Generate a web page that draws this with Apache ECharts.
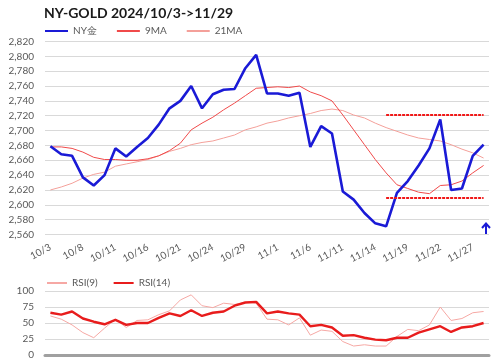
<!DOCTYPE html>
<html><head><meta charset="utf-8">
<script src="https://cdn.jsdelivr.net/npm/echarts@6/dist/echarts.min.js"></script>
<style>html,body{margin:0;padding:0;background:#fff}#c{width:500px;height:361px}</style>
</head><body><div id="c"></div>
<script>
var categories = ['10/3','10/4','10/7','10/8','10/9','10/10','10/11','10/14','10/15','10/16','10/17','10/18','10/21','10/22','10/23','10/24','10/25','10/28','10/29','10/30','10/31','11/1','11/4','11/5','11/6','11/7','11/8','11/11','11/12','11/13','11/14','11/15','11/18','11/19','11/20','11/21','11/22','11/25','11/26','11/27','11/29'];
var nyGold = [2679,2668,2666,2637,2626,2640,2676,2665,2678,2690,2708,2730,2740,2760,2730,2749,2755,2756,2784,2802,2750,2750,2747,2751,2678,2706,2696,2618,2607,2589,2575,2571,2616,2632,2653,2676,2715,2620,2622,2666,2681];
var ma9 = [2678,2678,2676,2671,2664,2661,2661,2660,2660,2662,2666,2673,2683,2701,2710,2718,2728,2737,2747,2757,2758,2759,2758,2760,2752,2747,2740,2721,2701,2681,2661,2643,2627,2622,2617,2615,2626,2627,2632,2643,2653];
var ma21 = [2620,2624,2629,2636,2641,2644,2652,2655,2658,2661,2666,2672,2676,2681,2684,2686,2690,2694,2701,2705,2710,2713,2717,2720,2723,2727,2729,2727,2721,2717,2710,2704,2699,2694,2690,2688,2686,2681,2675,2670,2663];
var rsi9 = [61,56,47,35,27,42,56,43,54,55,63,69,86,94,77,74,81,79,82,81,56,55,47,58,31,39,37,21,14,16,14,14,29,40,38,47,75,54,57,66,68];
var rsi14 = [66,63,68,57,52,48,55,47,50,50,58,65,61,70,61,66,68,77,82,83,65,68,65,63,45,47,43,30,31,27,24,23,27,27,35,40,45,36,43,45,50];
var resistance = 2721;
var support = 2610;
var priceTicks = {min: 2560, max: 2820, step: 20};
var rsiTicks = {min: 0, max: 100, step: 25};

var FONT = 'Lato';
var labelColor = '#595959';
var chart = echarts.init(document.getElementById('c'));
chart.setOption({
  animation: false,
  textStyle: {fontFamily: FONT},
  title: {
    text: 'NY-GOLD 2024/10/3->11/29', left: 44, top: 6, padding: 0,
    textStyle: {fontFamily: FONT, fontSize: 14, fontWeight: 'bold', color: '#1a1a1a'}
  },
  legend: [{
    data: ['NY金', '9MA', '21MA'], left: 45, top: 26, padding: 0,
    itemWidth: 23, itemHeight: 2, itemGap: 20, icon: 'rect',
    textStyle: {fontFamily: FONT, fontSize: 10, color: labelColor}
  }, {
    data: ['RSI(9)', 'RSI(14)'], left: 47, top: 278, padding: 0,
    itemWidth: 20, itemHeight: 2, itemGap: 16, icon: 'rect',
    textStyle: {fontFamily: FONT, fontSize: 10, color: labelColor}
  }],
  grid: [
    {left: 45, right: 11, top: 41.5, height: 193},
    {left: 45, right: 11, top: 291, height: 64}
  ],
  xAxis: [{
    type: 'category', gridIndex: 0, data: categories, boundaryGap: true,
    axisLine: {show: false}, axisTick: {show: false},
    axisLabel: {interval: 2, rotate: 28, fontSize: 10, color: labelColor, fontFamily: FONT, margin: 12}
  }, {
    type: 'category', gridIndex: 1, data: categories, boundaryGap: true,
    axisLine: {show: true, lineStyle: {color: '#a0a0a0', width: 3}}, axisTick: {show: false},
    axisLabel: {show: false}
  }],
  yAxis: [{
    type: 'value', gridIndex: 0, min: priceTicks.min, max: priceTicks.max, interval: priceTicks.step,
    axisLine: {show: false}, axisTick: {show: false},
    splitLine: {lineStyle: {color: '#d9d9d9', width: 1}},
    axisLabel: {fontSize: 10, color: labelColor, fontFamily: FONT, margin: 11,
      formatter: function (v) { return v.toLocaleString('en-US'); }}
  }, {
    type: 'value', gridIndex: 1, min: rsiTicks.min, max: rsiTicks.max, interval: rsiTicks.step,
    axisLine: {show: false}, axisTick: {show: false},
    splitLine: {lineStyle: {color: '#d9d9d9', width: 1}},
    axisLabel: {fontSize: 10, color: labelColor, fontFamily: FONT, margin: 11}
  }],
  series: [{
    name: '21MA', type: 'line', xAxisIndex: 0, yAxisIndex: 0, data: ma21,
    symbol: 'none', lineStyle: {color: '#f4a09a', width: 1}, itemStyle: {color: '#f4a09a'}
  }, {
    name: '9MA', type: 'line', xAxisIndex: 0, yAxisIndex: 0, data: ma9,
    symbol: 'none', lineStyle: {color: '#f04a4a', width: 1}, itemStyle: {color: '#f04a4a'},
    markLine: {
      silent: true, symbol: 'none', label: {show: false},
      lineStyle: {color: '#f01818', width: 1.8, type: [3, 1]},
      data: [
        [{coord: [31, resistance]}, {coord: [40, resistance]}],
        [{coord: [31, support]}, {coord: [40, support]}]
      ]
    }
  }, {
    name: 'NY金', type: 'line', xAxisIndex: 0, yAxisIndex: 0, data: nyGold,
    symbol: 'none', lineStyle: {color: '#1a1ad6', width: 2.6}, itemStyle: {color: '#1a1ad6'}
  }, {
    name: 'RSI(9)', type: 'line', xAxisIndex: 1, yAxisIndex: 1, data: rsi9,
    symbol: 'none', lineStyle: {color: '#f6a8a4', width: 1}, itemStyle: {color: '#f6a8a4'}
  }, {
    name: 'RSI(14)', type: 'line', xAxisIndex: 1, yAxisIndex: 1, data: rsi14,
    symbol: 'none', lineStyle: {color: '#e81c1c', width: 2.4}, itemStyle: {color: '#e81c1c'}
  }],
  graphic: [{
    type: 'group',
    children: [{
      type: 'line', shape: {x1: 486, y1: 223.5, x2: 486, y2: 235},
      style: {stroke: '#1a1ad6', lineWidth: 2}
    }, {
      type: 'polyline', shape: {points: [[482, 228], [486, 223.5], [490, 228]]},
      style: {stroke: '#1a1ad6', lineWidth: 2, fill: null}
    }]
  }]
});
</script></body></html>
